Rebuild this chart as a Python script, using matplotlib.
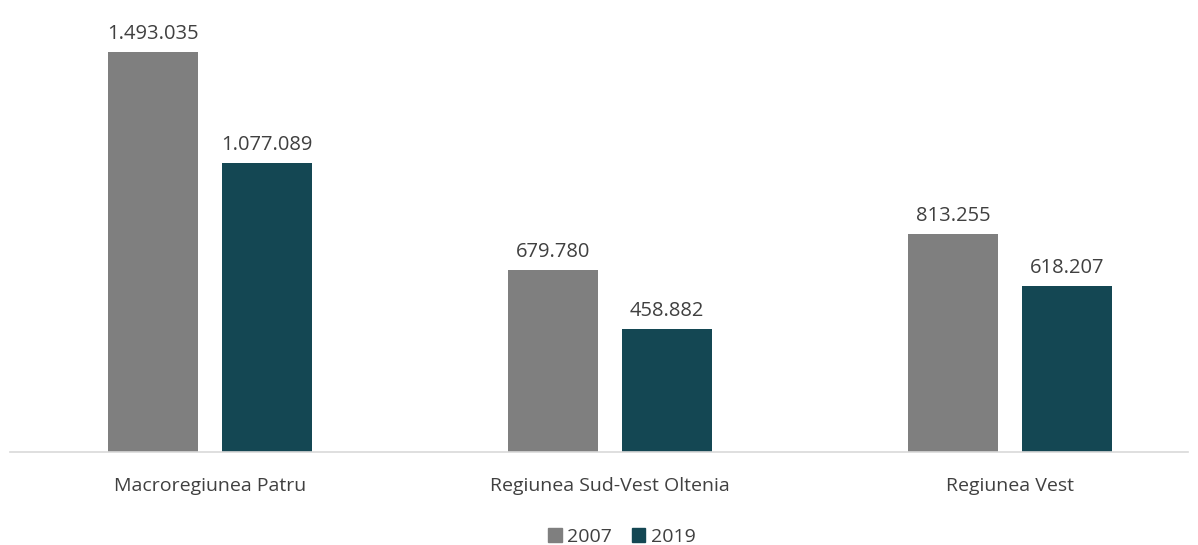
import matplotlib

matplotlib.use("Agg")
import matplotlib.pyplot as plt
import numpy as np
from matplotlib.patches import Patch

regions = ["Macroregiunea Patru", "Regiunea Sud-Vest Oltenia", "Regiunea Vest"]
years = ["2007", "2019"]
v2007 = [1493035, 679780, 813255]
v2019 = [1077089, 458882, 618207]

GREY = "#7F7F7F"
TEAL = "#144753"
TEXT = "#404040"

plt.rcParams["font.family"] = ["Open Sans", "DejaVu Sans"]


def fmt(v):
    return f"{v:,}".replace(",", ".")


fig = plt.figure(figsize=(11.98, 5.45), dpi=100)
ax = fig.add_axes([10 / 1198, 93 / 545, 1178 / 1198, 432 / 545])

x = np.arange(len(regions))
w = 0.225
off = 0.1425
b1 = ax.bar(x - off, v2007, w, color=GREY)
b2 = ax.bar(x + off, v2019, w, color=TEAL)
for bars, vals in ((b1, v2007), (b2, v2019)):
    for b, v in zip(bars, vals):
        ax.annotate(fmt(v), (b.get_x() + b.get_width() / 2, v), xytext=(0, 6),
                    textcoords="offset points", ha="center", va="bottom",
                    fontsize=14.5, color=TEXT)

ax.set_xlim(-0.5, 2.445)
ax.set_ylim(0, 1612500)
ax.set_xticks(x)
ax.set_xticklabels(regions, fontsize=14, color=TEXT)
ax.tick_params(axis="x", length=0, pad=18)
ax.set_yticks([])
for s in ("top", "right", "left"):
    ax.spines[s].set_visible(False)
ax.spines["bottom"].set_color("#D9D9D9")
ax.spines["bottom"].set_linewidth(1.2)

handles = [Patch(color=GREY), Patch(color=TEAL)]
fig.legend(handles, years, loc="center", bbox_to_anchor=(622 / 1198, 1 - 537 / 545),
           ncol=2, frameon=False, fontsize=14, labelcolor=TEXT,
           handlelength=0.7, handleheight=0.7, handletextpad=0.3, columnspacing=1.0)

fig.savefig("out.png", dpi=100)
